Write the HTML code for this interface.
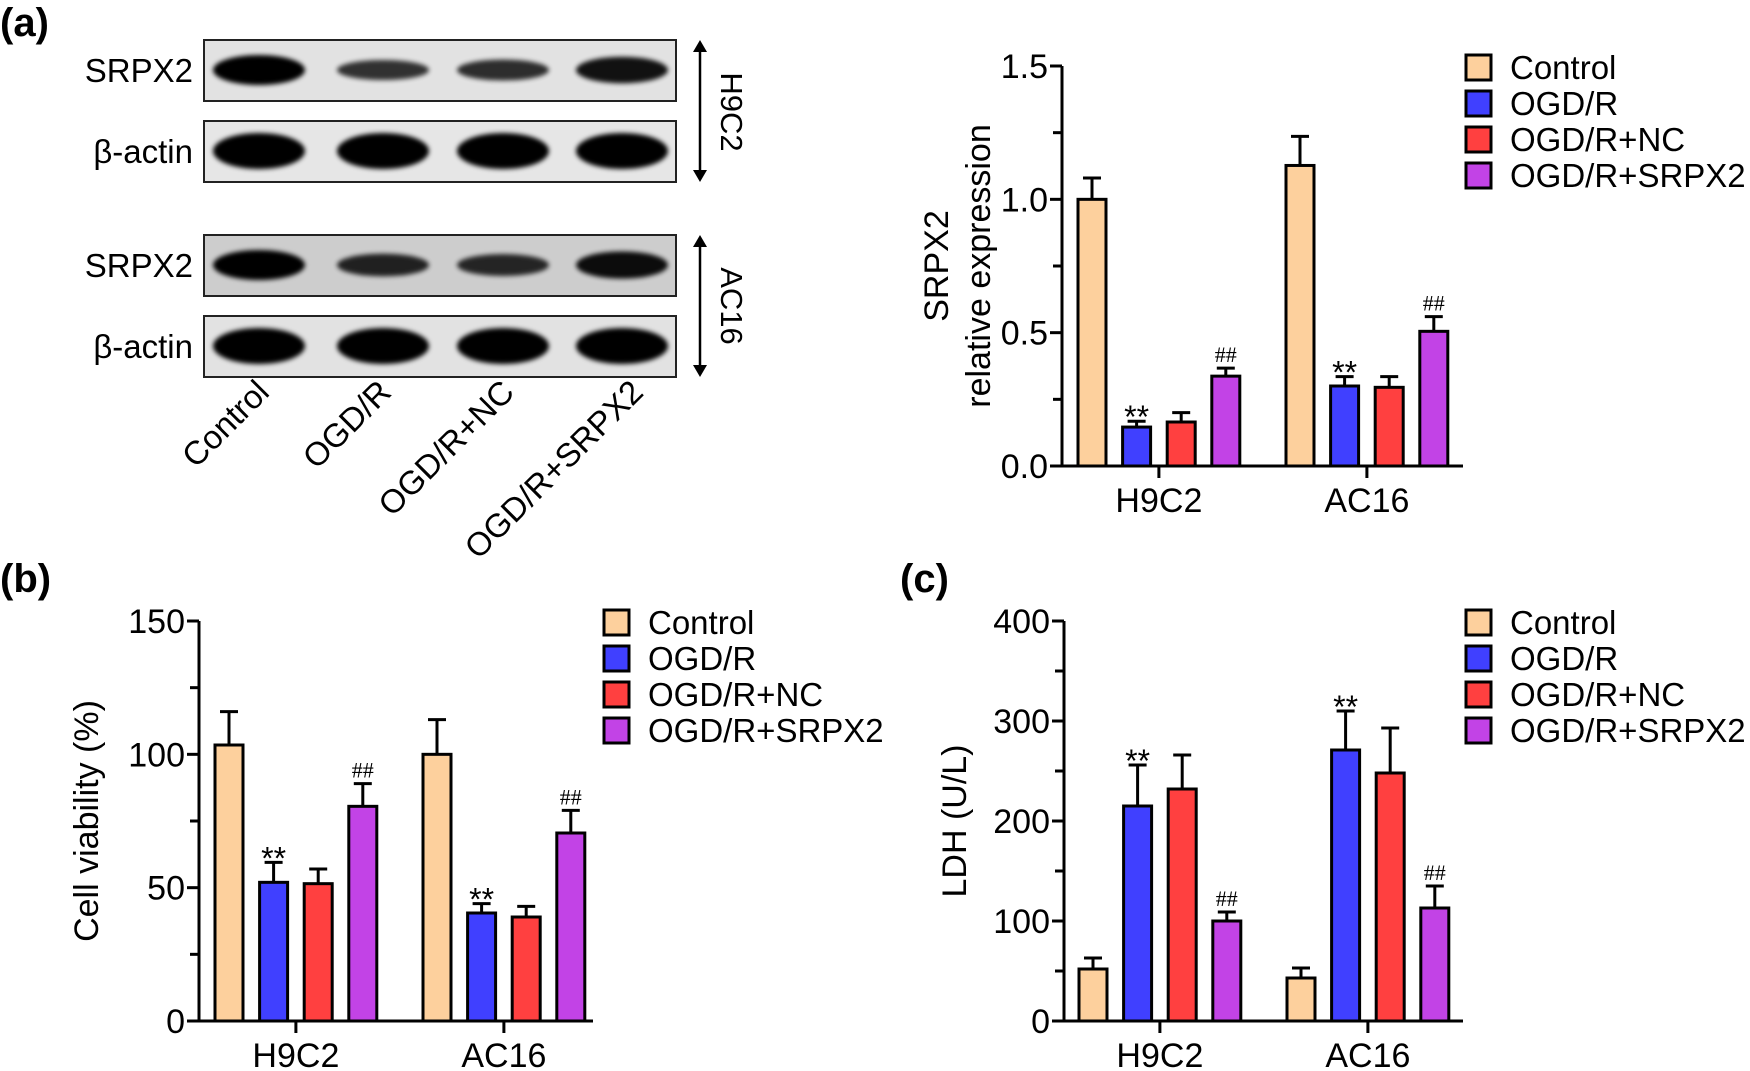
<!DOCTYPE html>
<html><head><meta charset="utf-8"><style>
html,body{margin:0;padding:0;background:#fff;width:1750px;height:1071px;overflow:hidden}
svg{display:block;font-family:"Liberation Sans",Arial,sans-serif}
</style></head><body>
<svg id="fig" width="1750" height="1071" viewBox="0 0 1750 1071">
<defs>
<filter id="blur" x="-20%" y="-50%" width="140%" height="200%"><feGaussianBlur stdDeviation="2.5"/></filter>
</defs>
<g font-weight="bold" font-size="40">
<text x="0" y="36">(a)</text>
<text x="0" y="592">(b)</text>
<text x="900" y="592">(c)</text>
</g>
<g id="blot"></g>
<g id="chartA"></g>
<g id="chartB"></g>
<g id="chartC"></g>
</svg>
<script>
// ---- data ----
const groups = ["H9C2", "AC16"];
const seriesNames = ["Control", "OGD/R", "OGD/R+NC", "OGD/R+SRPX2"];
const colors = ["#FDD09D", "#4040FF", "#FF4040", "#C243E6"];
const aMeans = [[1.0, 0.146, 0.165, 0.337], [1.127, 0.30, 0.295, 0.505]];
const aErrs = [[0.08, 0.022, 0.035, 0.03], [0.109, 0.035, 0.04, 0.055]];
const aTicks = [0, 0.5, 1.0, 1.5];
const aTickLabels = ["0.0", "0.5", "1.0", "1.5"];
const bMeans = [[103.5, 52, 51.5, 80.5], [100, 40.5, 39, 70.5]];
const bErrs = [[12.5, 7.5, 5.5, 8.5], [13, 3.5, 4, 8.5]];
const bTicks = [0, 50, 100, 150];
const cMeans = [[52, 215, 232, 100], [43, 271, 248, 113]];
const cErrs = [[11, 41, 34, 9], [10, 39, 45, 22]];
const cTicks = [0, 100, 200, 300, 400];
const marks = [["", "**", "", "##"], ["", "**", "", "##"]];
const lanes = ["Control", "OGD/R", "OGD/R+NC", "OGD/R+SRPX2"];
const blotIntensity = [[1.0, 0.45, 0.5, 0.8], [1.0, 1.0, 1.0, 1.0], [1.0, 0.6, 0.55, 0.85], [1.0, 1.0, 1.0, 1.0]];

const NS = "http://www.w3.org/2000/svg";
function mk(parent, tag, attrs, text) {
  const e = document.createElementNS(NS, tag);
  for (const k in attrs) e.setAttribute(k, attrs[k]);
  if (text !== undefined) e.textContent = text;
  parent.appendChild(e);
  return e;
}

function barChart(g, cfg) {
  const yScale = v => cfg.y0 - (v - cfg.min) / (cfg.max - cfg.min) * (cfg.y0 - cfg.yTop);
  const ya = mk(g, "line", {x1: cfg.ax, y1: cfg.yTop, x2: cfg.ax, y2: cfg.y0 + 1.5, stroke: "#000", "stroke-width": 3});
  
  
  const xa = mk(g, "line", {x1: cfg.ax - 12, y1: cfg.y0, x2: cfg.axEnd, y2: cfg.y0, stroke: "#000", "stroke-width": 3});
  
  
  for (let i = 0; i < cfg.ticks.length; i++) {
    const v = cfg.ticks[i], y = yScale(v);
    const t = mk(g, "line", {x1: cfg.ax - 12, y1: y, x2: cfg.ax, y2: y, stroke: "#000", "stroke-width": 3});
    
    
    const lb = mk(g, "text", {x: cfg.ax - 14, y: y + 12, "text-anchor": "end", "font-size": 34}, cfg.tickLabels ? cfg.tickLabels[i] : String(v));
    
    
    if (i < cfg.ticks.length - 1) {
      const ym = yScale((v + cfg.ticks[i + 1]) / 2);
      const mt = mk(g, "line", {x1: cfg.ax - 9, y1: ym, x2: cfg.ax, y2: ym, stroke: "#000", "stroke-width": 3});
      
      
    }
  }
  const tg = mk(g, "g", {transform: `translate(${cfg.titleX},${(cfg.yTop + cfg.y0) / 2}) rotate(-90)`});
  
  
  cfg.title.forEach((line, i) => {
    mk(tg, "text", {x: 0, y: i * 42, "text-anchor": "middle", "font-size": 34}, line);
  });
  const bw = 28, step = 44.6, gOff = 208;
  groups.forEach((grp, gi) => {
    const gx = cfg.firstBar + gi * gOff;
    for (let s = 0; s < seriesNames.length; s++) {
      const x = gx + s * step;
      const v = cfg.means[gi][s], e = cfg.errs[gi][s];
      const yt = yScale(v), ye = yScale(v + e), cx = x + bw / 2;
      const el = mk(g, "line", {x1: cx, y1: yt, x2: cx, y2: ye, stroke: "#000", "stroke-width": 3});
      
      
      const cap = mk(g, "line", {x1: cx - 9, y1: ye, x2: cx + 9, y2: ye, stroke: "#000", "stroke-width": 3});
      
      
      const r = mk(g, "rect", {x: x, y: yt, width: bw, height: cfg.y0 - yt, fill: colors[s], stroke: "#000", "stroke-width": 3});
      
      
      const m = marks[gi][s];
      if (m) {
        const mtx = mk(g, "text", {x: cx, y: ye - 6 + (m === "**" ? 13 : 0), "text-anchor": "middle", "font-size": m === "**" ? 32 : 22, "font-family": m === "##" ? "Liberation Serif, serif" : "Liberation Sans, sans-serif"}, m);
        
        
      }
    }
    const center = gx + 1.5 * step + bw / 2;
    const gt = mk(g, "line", {x1: center, y1: cfg.y0, x2: center, y2: cfg.y0 + 12, stroke: "#000", "stroke-width": 3});
    
    
    const gl = mk(g, "text", {x: center, y: cfg.y0 + 46, "text-anchor": "middle", "font-size": 34}, grp);
    
    
  });
  const lg = mk(g, "g", {});
  
  
  seriesNames.forEach((n, s) => {
    const y = cfg.legY + s * 36;
    const b = mk(lg, "rect", {x: cfg.legX, y: y - 12, width: 25, height: 25, fill: colors[s], stroke: "#000", "stroke-width": 3});
    
    
    const t = mk(lg, "text", {x: cfg.legX + 44, y: y + 12, "font-size": 33}, n);
    
    
  });
}

barChart(document.getElementById("chartA"), {ax: 1062, axEnd: 1463, y0: 466, yTop: 66, min: 0, max: 1.5,
  ticks: aTicks, tickLabels: aTickLabels, means: aMeans, errs: aErrs, firstBar: 1078,
  title: ["SRPX2", "relative expression"], titleX: 948, legX: 1466, legY: 67});
barChart(document.getElementById("chartB"), {ax: 199, axEnd: 593, y0: 1021, yTop: 621, min: 0, max: 150,
  ticks: bTicks, means: bMeans, errs: bErrs, firstBar: 215,
  title: ["Cell viability (%)"], titleX: 98, legX: 604, legY: 622});
barChart(document.getElementById("chartC"), {ax: 1064, axEnd: 1463, y0: 1021, yTop: 621, min: 0, max: 400,
  ticks: cTicks, means: cMeans, errs: cErrs, firstBar: 1079,
  title: ["LDH (U/L)"], titleX: 966, legX: 1466, legY: 622});

// ---- western blot ----
(function () {
  const g = document.getElementById("blot");
  const rows = [40, 121, 235, 316];
  const rowLabels = ["SRPX2", "β-actin", "SRPX2", "β-actin"];
  const bgs = ["#e2e2e2", "#e6e6e6", "#cdcdcd", "#e2e2e2"];
  const laneX = [259, 383, 503, 622];
  rows.forEach((y, r) => {
    const box = mk(g, "rect", {x: 204, y: y, width: 472, height: 61, fill: bgs[r], stroke: "#222", "stroke-width": 2});
    
    
    const lb = mk(g, "text", {x: 193, y: y + 42, "text-anchor": "end", "font-size": 33}, rowLabels[r]);
    
    
    laneX.forEach((cx, l) => {
      const k = blotIntensity[r][l];
      const isActin = r % 2 === 1;
      const band = mk(g, "ellipse", {cx: cx, cy: y + 30, rx: 46, ry: (isActin ? 18 : 15) * (0.4 + 0.6 * k), fill: "#000", opacity: 0.6 + 0.4 * k, filter: "url(#blur)"});
      
      
    });
  });
  [[40, 182, "H9C2", 112], [235, 377, "AC16", 306]].forEach(a => {
    const ln = mk(g, "line", {x1: 700, y1: a[0] + 8, x2: 700, y2: a[1] - 8, stroke: "#000", "stroke-width": 2.5});
    
    
    mk(g, "path", {d: `M693 ${a[0] + 12} L700 ${a[0]} L707 ${a[0] + 12} Z`, fill: "#000"});
    mk(g, "path", {d: `M693 ${a[1] - 12} L700 ${a[1]} L707 ${a[1] - 12} Z`, fill: "#000"});
    const t = mk(g, "text", {x: 0, y: 0, "text-anchor": "middle", "font-size": 31, transform: `translate(721,${a[3]}) rotate(90)`}, a[2]);
    
    
  });
  const ends = [271, 393, 516, 645];
  lanes.forEach((n, i) => {
    const t = mk(g, "text", {x: 0, y: 0, "text-anchor": "end", "font-size": 33, transform: `translate(${ends[i]},394) rotate(-45)`}, n);
    
    
  });
})();
</script>
</body></html>
